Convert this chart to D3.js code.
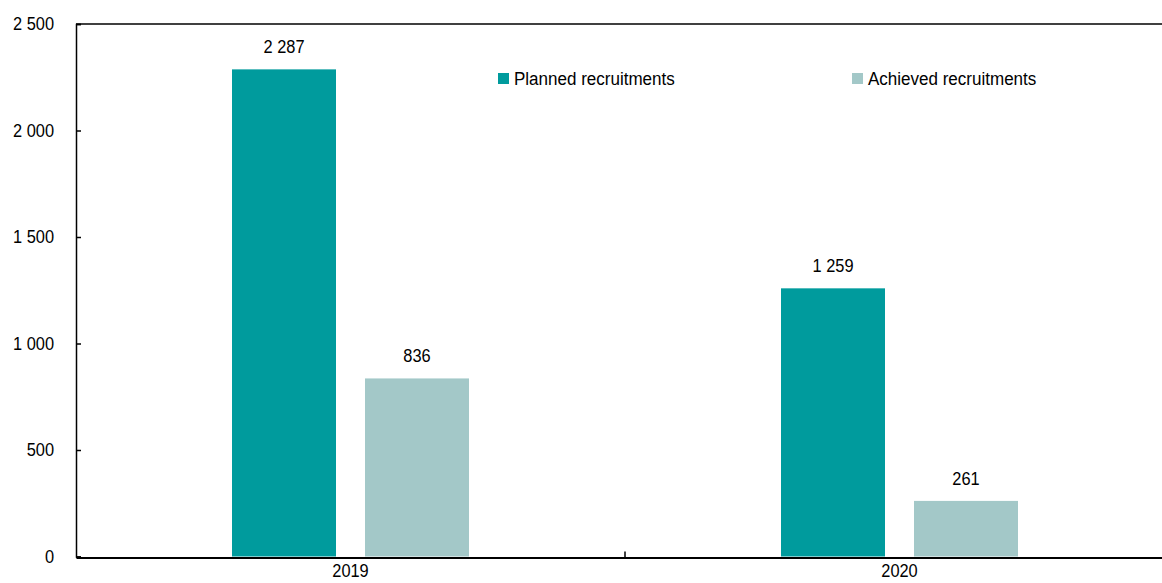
<!DOCTYPE html>
<html>
<head>
<meta charset="utf-8">
<script src="https://cdn.jsdelivr.net/npm/d3@7"></script>
<style>
  body { margin: 0; background: #fff; }
  svg { display: block; font-family: "Liberation Sans", Arial, sans-serif; }
</style>
</head>
<body>
<svg id="chart" width="1162" height="583"></svg>
<script>
// Recruitment data by year
const years = ["2019", "2020"];
const planned = [2287, 1259];
const achieved = [836, 261];
const seriesNames = ["Planned recruitments", "Achieved recruitments"];
const seriesColors = ["#009B9D", "#A3C8C8"];
const yTicks = [0, 500, 1000, 1500, 2000, 2500];

const svg = d3.select("#chart");
const margin = { left: 76, top: 24, bottom: 26 };
const W = 1162, H = 583;
const plotRight = 1174;
const y0 = H - margin.bottom - 0.5;
const FS = 18;

const fmt = v => d3.format(",")(v).replace(/,/g, " ");

// slightly condensed text
function narrow(sel, k = 0.91) {
  sel.each(function () {
    const w = this.getComputedTextLength();
    d3.select(this).attr("textLength", w * k).attr("lengthAdjust", "spacingAndGlyphs");
  });
}

const x = d3.scaleBand().domain(years).range([margin.left, plotRight]);
const y = d3.scaleLinear().domain([0, 2500]).range([y0, margin.top]);

// bar geometry within each category band
const barW = 104, barGap = 29;
const barX = (i, s) => x(years[i]) + x.bandwidth() / 2 - (barW * 2 + barGap) / 2 + s * (barW + barGap);

const data = [planned, achieved];

// Bars and value labels
data.forEach((vals, s) => {
  svg.append("g").selectAll("rect").data(vals).join("rect")
    .attr("x", (d, i) => barX(i, s))
    .attr("y", d => y(d))
    .attr("width", barW)
    .attr("height", d => y(0) - y(d))
    .attr("fill", seriesColors[s]);
  svg.append("g").selectAll("text").data(vals).join("text")
    .attr("x", (d, i) => barX(i, s) + barW / 2)
    .attr("y", d => y(d) - 16)
    .attr("text-anchor", "middle")
    .attr("font-size", FS)
    .attr("fill", "#000")
    .text(d => fmt(d))
    .call(narrow);
});

// Top frame line
svg.append("line")
  .attr("x1", margin.left).attr("x2", W)
  .attr("y1", margin.top).attr("y2", margin.top)
  .attr("stroke", "#000").attr("stroke-width", 1.5);

// Y axis
const yAxis = svg.append("g")
  .attr("transform", `translate(${margin.left},0)`)
  .call(d3.axisLeft(y).tickValues(yTicks).tickSize(-5).tickPadding(22).tickFormat(fmt));
yAxis.select(".domain").attr("stroke", "#000").attr("stroke-width", 1.5);
yAxis.selectAll(".tick line").attr("stroke", "#000").attr("stroke-width", 1.5);
yAxis.selectAll(".tick text").attr("font-size", FS).attr("fill", "#000")
  .attr("font-family", "Liberation Sans, Arial, sans-serif").call(narrow);

// X axis
const xAxis = svg.append("g")
  .attr("transform", `translate(0,${y0 + 1})`)
  .call(d3.axisBottom(x).tickSize(0).tickPadding(7));
xAxis.select(".domain").attr("stroke", "#000").attr("stroke-width", 2);
xAxis.selectAll(".tick text").attr("font-size", FS).attr("fill", "#000")
  .attr("font-family", "Liberation Sans, Arial, sans-serif").call(narrow);
// category separator tick
svg.append("line")
  .attr("x1", x("2020")).attr("x2", x("2020"))
  .attr("y1", y0 + 1).attr("y2", y0 - 5)
  .attr("stroke", "#000").attr("stroke-width", 1.5);

// Legend
const legendX = [498, 852];
const lg = svg.append("g");
seriesNames.forEach((name, i) => {
  lg.append("rect").attr("x", legendX[i]).attr("y", 73).attr("width", 11).attr("height", 11)
    .attr("fill", seriesColors[i]);
  lg.append("text").attr("x", legendX[i] + 16).attr("y", 85)
    .attr("font-size", FS).attr("fill", "#000").text(name).call(narrow, 0.945);
});
</script>
</body>
</html>
